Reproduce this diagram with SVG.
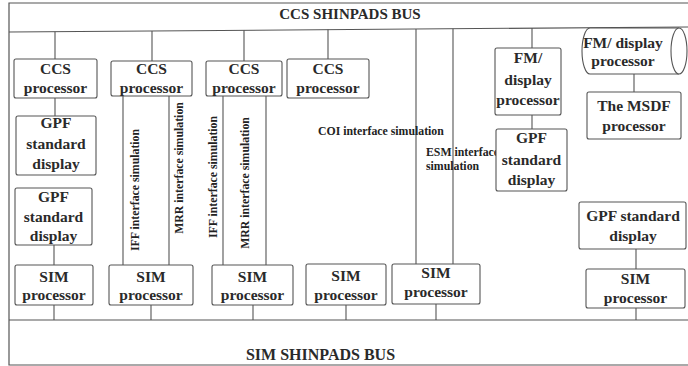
<svg xmlns="http://www.w3.org/2000/svg" width="688" height="366" viewBox="0 0 688 366">
<style>
.frame{fill:none;stroke:#555;stroke-width:1.2}
.box{fill:#fff;stroke:#555;stroke-width:1.1}
.ln{fill:none;stroke:#555;stroke-width:1.1}
.t{font-family:"Liberation Serif","Times New Roman",serif;font-weight:bold;font-size:15.5px;fill:#2a2a2a;text-anchor:middle}
.title{font-family:"Liberation Serif","Times New Roman",serif;font-weight:bold;font-size:15px;fill:#2a2a2a;text-anchor:middle}
.ann{font-family:"Liberation Serif","Times New Roman",serif;font-weight:bold;font-size:11.8px;fill:#222}
</style>
<rect width="688" height="366" fill="#fff"/>
<g id="frame">
<path class="frame" d="M688,3 H9 V365 H688"/>
<text class="title" x="350" y="18.5">CCS SHINPADS BUS</text>
<text class="title" x="320.5" y="360" style="font-size:16px">SIM SHINPADS BUS</text>
</g>
<g id="connectors">
<line class="ln" x1="9" y1="32" x2="688" y2="27"/>
<line class="ln" x1="9" y1="320" x2="688" y2="320"/>
<line class="ln" x1="55" y1="31.7" x2="55" y2="59"/>
<line class="ln" x1="55" y1="98" x2="55" y2="116"/>
<line class="ln" x1="54" y1="245" x2="54" y2="265"/>
<line class="ln" x1="54" y1="305" x2="54" y2="320"/>
<line class="ln" x1="152" y1="30.9" x2="152" y2="61"/>
<line class="ln" x1="123" y1="96" x2="123" y2="265"/>
<line class="ln" x1="169" y1="96" x2="169" y2="265"/>
<line class="ln" x1="151" y1="305" x2="151" y2="320"/>
<line class="ln" x1="244" y1="30.3" x2="244" y2="61"/>
<line class="ln" x1="223" y1="96" x2="223" y2="265"/>
<line class="ln" x1="266" y1="96" x2="266" y2="265"/>
<line class="ln" x1="253" y1="305" x2="253" y2="320"/>
<line class="ln" x1="328" y1="29.6" x2="328" y2="59"/>
<line class="ln" x1="346" y1="305" x2="346" y2="320"/>
<line class="ln" x1="416" y1="29" x2="416" y2="264"/>
<line class="ln" x1="453" y1="28.7" x2="453" y2="264"/>
<line class="ln" x1="436" y1="304" x2="436" y2="320"/>
<line class="ln" x1="532" y1="28.1" x2="532" y2="48"/>
<line class="ln" x1="532" y1="115" x2="532" y2="129"/>
<line class="ln" x1="634" y1="74" x2="634" y2="92"/>
<line class="ln" x1="636" y1="249" x2="636" y2="269"/>
<line class="ln" x1="636" y1="308" x2="636" y2="320"/>
</g>
<g id="labels">
<text class="ann" transform="translate(139,190) rotate(-90)" text-anchor="middle">IFF interface simulation</text>
<text class="ann" transform="translate(183,168) rotate(-90)" text-anchor="middle">MRR interface simulation</text>
<text class="ann" transform="translate(217,177) rotate(-90)" text-anchor="middle">IFF interface simulation</text>
<text class="ann" transform="translate(249,183) rotate(-90)" text-anchor="middle">MRR interface simulation</text>
<text class="ann" x="318" y="135">COI interface simulation</text>
<text class="ann" x="426" y="155.5">ESM interface</text>
<text class="ann" x="426" y="169.5">simulation</text>
</g>
<g id="ccs1"><rect class="box" x="14" y="59" width="83" height="39" rx="2"/><text class="t" x="55.5" y="74">CCS</text><text class="t" x="55.5" y="93">processor</text></g>
<g id="gpf1"><rect class="box" x="16" y="116" width="80" height="59" rx="2"/><text class="t" x="56" y="128">GPF</text><text class="t" x="56" y="149">standard</text><text class="t" x="56" y="169">display</text></g>
<g id="gpf2"><rect class="box" x="15" y="188" width="77" height="57" rx="2"/><text class="t" x="53.5" y="202">GPF</text><text class="t" x="53.5" y="222">standard</text><text class="t" x="53.5" y="241">display</text></g>
<g id="sim1"><rect class="box" x="15" y="265" width="78" height="40" rx="2"/><text class="t" x="54" y="282">SIM</text><text class="t" x="54" y="300">processor</text></g>
<g id="ccs2"><rect class="box" x="111" y="61" width="81" height="35" rx="2"/><text class="t" x="151.5" y="74">CCS</text><text class="t" x="151.5" y="93">processor</text></g>
<g id="sim2"><rect class="box" x="109" y="265" width="84" height="40" rx="2"/><text class="t" x="151" y="282">SIM</text><text class="t" x="151" y="300">processor</text></g>
<g id="ccs3"><rect class="box" x="206" y="61" width="76" height="35" rx="2"/><text class="t" x="244" y="74">CCS</text><text class="t" x="244" y="93">processor</text></g>
<g id="sim3"><rect class="box" x="212" y="265" width="81" height="40" rx="2"/><text class="t" x="252.5" y="282">SIM</text><text class="t" x="252.5" y="300">processor</text></g>
<g id="ccs4"><rect class="box" x="287" y="59" width="82" height="39" rx="2"/><text class="t" x="328" y="74">CCS</text><text class="t" x="328" y="93">processor</text></g>
<g id="sim4"><rect class="box" x="306" y="264" width="80" height="41" rx="2"/><text class="t" x="346" y="281">SIM</text><text class="t" x="346" y="300">processor</text></g>
<g id="sim5"><rect class="box" x="392" y="264" width="88" height="40" rx="2"/><text class="t" x="436" y="278">SIM</text><text class="t" x="436" y="297">processor</text></g>
<g id="fm1"><rect class="box" x="495" y="48" width="66" height="67" rx="2"/><text class="t" x="528" y="63">FM/</text><text class="t" x="528" y="85">display</text><text class="t" x="528" y="105">processor</text></g>
<g id="gpf6"><rect class="box" x="496" y="129" width="71" height="62" rx="2"/><text class="t" x="531.5" y="143">GPF</text><text class="t" x="531.5" y="165">standard</text><text class="t" x="531.5" y="185">display</text></g>
<g id="fm2"><path class="box" d="M679,28 H590 A8,23 0 0 0 590,74 H679"/><ellipse class="box" cx="679" cy="51" rx="8" ry="23"/><text class="t" x="623" y="48">FM/ display</text><text class="t" x="623" y="66">processor</text></g>
<g id="msdf"><rect class="box" x="587" y="92" width="94" height="47" rx="2"/><text class="t" x="634" y="111">The MSDF</text><text class="t" x="634" y="131">processor</text></g>
<g id="gpf7"><rect class="box" x="579" y="202" width="107" height="47" rx="2"/><text class="t" x="633" y="221">GPF standard</text><text class="t" x="633" y="241">display</text></g>
<g id="sim7"><rect class="box" x="586" y="269" width="99" height="39" rx="2"/><text class="t" x="635.5" y="284">SIM</text><text class="t" x="635.5" y="303">processor</text></g>
</svg>
